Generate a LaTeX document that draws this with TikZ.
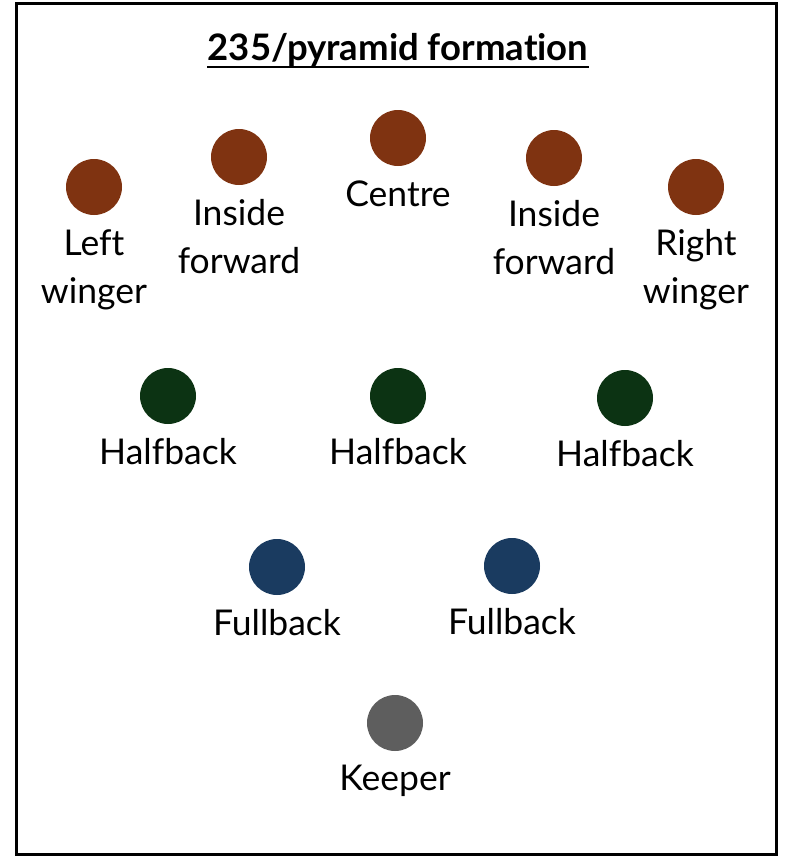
\documentclass[tikz,border=0pt]{standalone}
\usepackage{fontspec}
\setmainfont{Lato}[Ligatures={NoCommon}]
\usetikzlibrary{positioning}
\definecolor{fwd}{HTML}{7F3311}
\definecolor{half}{HTML}{0C3313}
\definecolor{full}{HTML}{1A3B60}
\definecolor{keep}{HTML}{5E5E5E}
\tikzset{
  player/.style={circle,minimum size=56pt,inner sep=0pt},
  lbl/.style={align=center,inner sep=0pt,font=\fontsize{35.5}{48}\selectfont},
}

\begin{document}
\begin{tikzpicture}[x=1pt,y=-1pt]
    \useasboundingbox (0,0) rectangle (800,859);
    \draw[line width=3pt] (16,4) rectangle (776,854);
    \node[inner sep=0pt,font=\fontsize{36.5}{40}\selectfont\bfseries] (title) at (398,50) {235/pyramid formation};
    \draw[line width=2pt] ([yshift=-6pt]title.base west) -- ([yshift=-6pt]title.base east);
    % forwards
    \node[player,fill=fwd] (lw) at (94,187) {};
    \node[player,fill=fwd] (lif) at (239,157) {};
    \node[player,fill=fwd] (cf) at (398,138) {};
    \node[player,fill=fwd] (rif) at (554,158) {};
    \node[player,fill=fwd] (rw) at (696,187) {};
    \node[lbl,below=14pt of lw] (lw-l) {Left\\winger};
    \node[lbl,below=14pt of lif] (lif-l) {Inside\\forward};
    \node[lbl,below=14pt of cf] (cf-l) {Centre};
    \node[lbl,below=14pt of rif] (rif-l) {Inside\\forward};
    \node[lbl,below=14pt of rw] (rw-l) {Right\\winger};
    % halfbacks
    \node[player,fill=half] (lh) at (168,396) {};
    \node[player,fill=half] (ch) at (398,396) {};
    \node[player,fill=half] (rh) at (625,398) {};
    \node[lbl,below=14pt of lh] (lh-l) {Halfback};
    \node[lbl,below=14pt of ch] (ch-l) {Halfback};
    \node[lbl,below=14pt of rh] (rh-l) {Halfback};
    % fullbacks and keeper
    \node[player,fill=full] (lb) at (277,567) {};
    \node[player,fill=full] (rb) at (512,566) {};
    \node[player,fill=keep] (gk) at (395,723) {};
    \node[lbl,below=14pt of lb] (lb-l) {Fullback};
    \node[lbl,below=14pt of rb] (rb-l) {Fullback};
    \node[lbl,below=14pt of gk] (gk-l) {Keeper};
\end{tikzpicture}
\end{document}
